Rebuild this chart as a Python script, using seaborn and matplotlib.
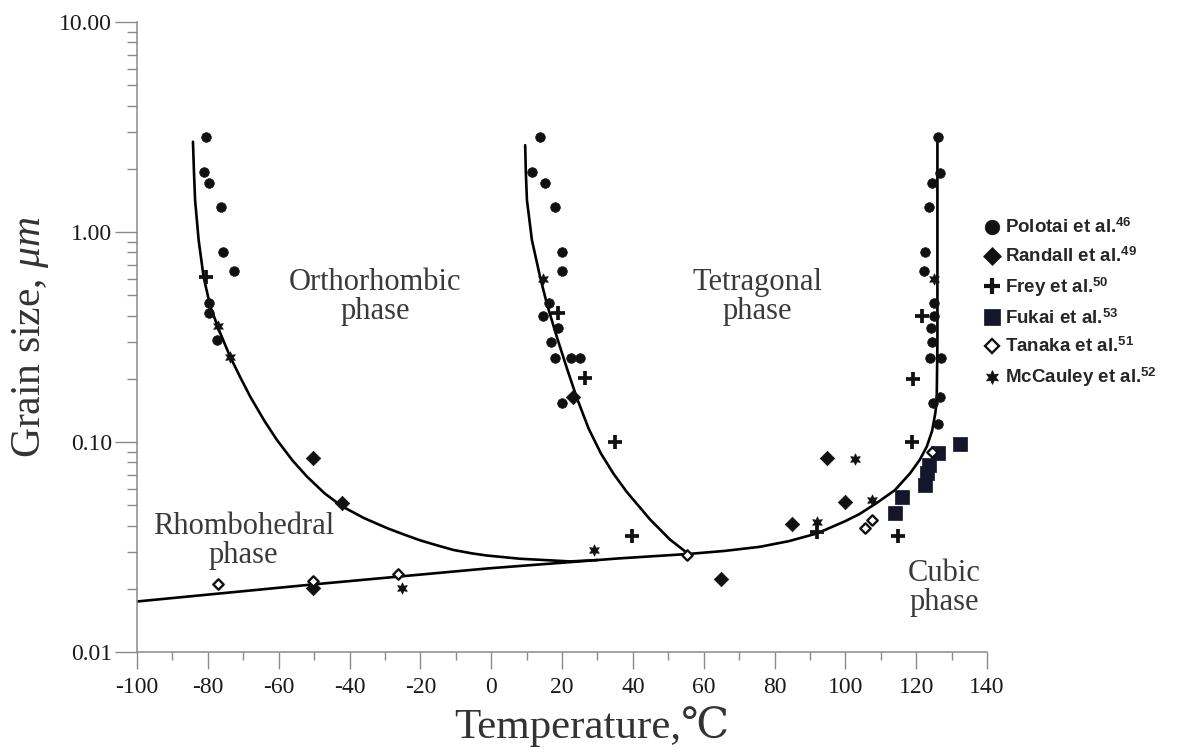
import numpy as np
import pandas as pd
import matplotlib
matplotlib.use("Agg")
import matplotlib.pyplot as plt
import seaborn as sns
from matplotlib.lines import Line2D
from matplotlib.ticker import FixedLocator, NullFormatter

# ---------------- data ----------------
polotai_t = [-80.5, -81.2, -79.6, -76.2, -75.6, -72.5, -79.8, -79.8, -77.5,
             13.8, 11.5, 15.2, 18.1, 20.1, 19.9, 16.2, 14.5, 19.0, 16.9, 18.1, 22.5, 25.0, 19.9,
             126.3, 126.6, 124.4, 123.5, 122.5, 122.3, 124.9, 124.9, 124.1, 124.4, 124.0, 127.0,
             126.8, 124.7, 126.3]
polotai_d = [2.82, 1.94, 1.72, 1.32, 0.805, 0.654, 0.46, 0.41, 0.306,
             2.82, 1.94, 1.72, 1.32, 0.805, 0.654, 0.46, 0.40, 0.35, 0.30, 0.25, 0.25, 0.25, 0.153,
             2.82, 1.92, 1.72, 1.32, 0.80, 0.654, 0.46, 0.40, 0.35, 0.30, 0.25, 0.25,
             0.164, 0.153, 0.122]

randall_t = [-50.2, -42.2, -50.2, 64.9, 94.8, 99.9, 84.9, 23.2]
randall_d = [0.0836, 0.0514, 0.0201, 0.0223, 0.0836, 0.052, 0.0407, 0.164]

frey_t = [35.0, 39.7, 19.0, 26.5, 121.6, 119.2, 118.8, 115.0, 92.0, -80.5]
frey_d = [0.100, 0.0357, 0.41, 0.201, 0.40, 0.20, 0.100, 0.0357, 0.0374, 0.61]

fukai_t = [114.1, 115.9, 122.5, 123.0, 123.5, 126.3, 132.3]
fukai_d = [0.0457, 0.0546, 0.0624, 0.0714, 0.0776, 0.0884, 0.0977]

tanaka_t = [-77.0, -50.2, -26.2, 55.2, 105.6, 107.5, 124.4]
tanaka_d = [0.0211, 0.0218, 0.0235, 0.029, 0.0388, 0.0425, 0.090]

mccauley_t = [-77.0, -73.7, -25.2, 28.9, 92.0, 102.8, 107.5, 14.5, 124.9]
mccauley_d = [0.355, 0.255, 0.0201, 0.0306, 0.0417, 0.0828, 0.053, 0.60, 0.60]

# phase boundaries
ortho_t = [-84.2, -83.9, -83.6, -82.6, -81.2, -79.3, -76.5, -73.7, -70.9, -68.0, -64.0,
           -60.5, -56.0, -52.0, -47.0, -42.2, -36.0, -29.4, -24.7, -20.0, -15.0, -10.6,
           -5.5, -1.2, 8.2, 22.3, 30.0]
ortho_d = [2.69, 1.90, 1.42, 0.916, 0.612, 0.441, 0.330, 0.2547, 0.2042, 0.1641, 0.1259,
           0.1023, 0.0813, 0.0684, 0.0569, 0.0495, 0.0435, 0.0389, 0.0363, 0.0340, 0.0321,
           0.0306, 0.0295, 0.0288, 0.0278, 0.0270, 0.0274]

tetra_t = [9.6, 9.8, 10.1, 11.5, 13.8, 15.7, 18.5, 21.4, 24.2, 27.5, 31.0, 34.5, 38.3,
           44.9, 50.5, 55.7]
tetra_d = [2.59, 1.90, 1.42, 0.916, 0.612, 0.457, 0.318, 0.224, 0.162, 0.116, 0.0881,
           0.0708, 0.0578, 0.0427, 0.0343, 0.0293]

cubic_t = [-100.0, -50.0, -1.0, 36.0, 55.7, 66.0, 75.9, 84.0, 92.0, 100.0, 104.0, 108.9,
           114.0, 118.3, 121.0, 123.0, 124.5, 125.4, 125.8, 126.0, 126.0]
cubic_d = [0.0174, 0.0210, 0.0250, 0.0279, 0.0293, 0.0303, 0.0317, 0.0337, 0.0367,
           0.0420, 0.0454, 0.0513, 0.059, 0.0710, 0.0822, 0.0951, 0.113, 0.137, 0.158,
           0.30, 2.84]

x_ticks = [-100, -80, -60, -40, -20, 0, 20, 40, 60, 80, 100, 120, 140]
x_tick_labels = ["-100", "-80", "-60", "-40", "-20", "0", "20", "40", "60", "80",
                 "100", "120", "140"]
y_ticks = [0.01, 0.1, 1.0, 10.0]
y_tick_labels = ["0.01", "0.10", "1.00", "10.00"]

legend_labels = ["Polotai et al.$^{\\mathbf{46}}$", "Randall et al.$^{\\mathbf{49}}$",
                 "Frey et al.$^{\\mathbf{50}}$", "Fukai et al.$^{\\mathbf{53}}$",
                 "Tanaka et al.$^{\\mathbf{51}}$", "McCauley et al.$^{\\mathbf{52}}$"]

# ---------------- style ----------------
sns.set_theme(style="white")
plt.rcParams["font.family"] = ["Liberation Serif", "DejaVu Serif"]
plt.rcParams["mathtext.fontset"] = "custom"
plt.rcParams["mathtext.rm"] = "Liberation Serif"
plt.rcParams["mathtext.it"] = "Liberation Serif:italic"
plt.rcParams["mathtext.bf"] = "Liberation Sans:bold"
plt.rcParams["axes.unicode_minus"] = False

W, H = 1198, 752
fig = plt.figure(figsize=(W / 100, H / 100), dpi=100)
ax = fig.add_axes([137 / W, 100 / H, 850 / W, 630 / H])

line_kw = dict(color="black", linewidth=1.9, sort=False, estimator=None, ax=ax)
sns.lineplot(x=ortho_t, y=ortho_d, **line_kw)
sns.lineplot(x=tetra_t, y=tetra_d, **line_kw)
sns.lineplot(x=cubic_t, y=cubic_d, **line_kw)

BLACK = "#111111"
SQ = "#15152b"
series = [
    (polotai_t, polotai_d, dict(marker="o", s=48, color=BLACK, edgecolor=BLACK, linewidth=0.5)),
    (randall_t, randall_d, dict(marker="D", s=54, color=BLACK, edgecolor=BLACK, linewidth=0.5)),
    (frey_t, frey_d, dict(marker="+", s=100, color=BLACK, linewidth=2.7)),
    (fukai_t, fukai_d, dict(marker="s", s=90, color=SQ, edgecolor=SQ, linewidth=0.5)),
    (tanaka_t, tanaka_d, dict(marker="D", s=28, facecolor="white", edgecolor=BLACK, linewidth=1.7)),
    (mccauley_t, mccauley_d, dict(marker=(6, 1, 0), s=66, color=BLACK, edgecolor=BLACK, linewidth=0.5)),
]
for t, d, kw in series:
    sns.scatterplot(x=t, y=d, ax=ax, zorder=3, legend=False, **kw)

ax.set_yscale("log")
ax.set_xlim(-100, 140)
ax.set_ylim(0.01, 10)

ax.xaxis.set_major_locator(FixedLocator(x_ticks))
ax.set_xticklabels(x_tick_labels)
ax.xaxis.set_minor_locator(FixedLocator(list(range(-90, 140, 20))))
ax.yaxis.set_major_locator(FixedLocator(y_ticks))
ax.set_yticklabels(y_tick_labels)
minor_y = [m * 10.0 ** e for e in (-2, -1, 0) for m in range(2, 10)]
ax.yaxis.set_minor_locator(FixedLocator(minor_y))
ax.yaxis.set_minor_formatter(NullFormatter())

for side in ("top", "right"):
    ax.spines[side].set_visible(False)
for side in ("left", "bottom"):
    ax.spines[side].set_color("#8a8a8a")
    ax.spines[side].set_linewidth(1.1)

ax.tick_params(axis="x", which="major", direction="out", length=12, width=1.0,
               color="#8a8a8a", labelsize=17, labelcolor="#1a1a1a", pad=6)
ax.tick_params(axis="x", which="minor", direction="out", length=6, width=1.0, color="#8a8a8a")
ax.tick_params(axis="y", which="major", direction="out", length=16, width=1.0,
               color="#8a8a8a", labelsize=17, labelcolor="#1a1a1a", pad=2)
ax.tick_params(axis="y", which="minor", direction="out", length=7, width=1.0, color="#8a8a8a")
ax.tick_params(axis="both", which="both", bottom=True, left=True)

ax.set_ylabel("Grain size, $\\mathit{\\mu m}$", fontsize=30, color="#333333", labelpad=6)
ax.set_xlabel("")
fig.text(592 / W, 1 - 727 / H, "Temperature,\u2103", ha="center", va="center",
         fontsize=31, color="#333333")

txt_kw = dict(ha="center", va="center", fontsize=22, color="#3a3a3a", linespacing=1.0)
ax.text(-32.7, 0.49, "Orthorhombic\nphase", **txt_kw)
ax.text(75.1, 0.49, "Tetragonal\nphase", **txt_kw)
ax.text(-70.0, 0.0338, "Rhombohedral\nphase", **txt_kw)
ax.text(127.9, 0.0202, "Cubic\nphase", **txt_kw)

handles = []
for t, d, kw in series:
    m = kw["marker"]
    fc = kw.get("facecolor", kw.get("color"))
    ec = kw.get("edgecolor", kw.get("color"))
    if m == "+":
        h = Line2D([], [], linestyle="", marker="+", markersize=11, markeredgewidth=3.0, color=BLACK)
    else:
        size = {"o": 10.5, "D": 9, "s": 11}.get(m, 9) if not isinstance(m, tuple) else 10
        if fc == "white":
            size = 7
        h = Line2D([], [], linestyle="", marker=m, markersize=size, markerfacecolor=fc,
                   markeredgecolor=ec, markeredgewidth=kw.get("linewidth", 0.5))
    handles.append(h)

fig.legend(handles, legend_labels, loc="upper left",
           bbox_to_anchor=(984 / W, 1 - 218 / H), frameon=False,
           prop={"family": ["Liberation Sans Narrow", "Liberation Sans"], "weight": "bold", "size": 13.5},
           handlelength=0.9, handletextpad=0.2, labelspacing=0.5, borderpad=0, borderaxespad=0)

fig.savefig("out.png", dpi=100)
